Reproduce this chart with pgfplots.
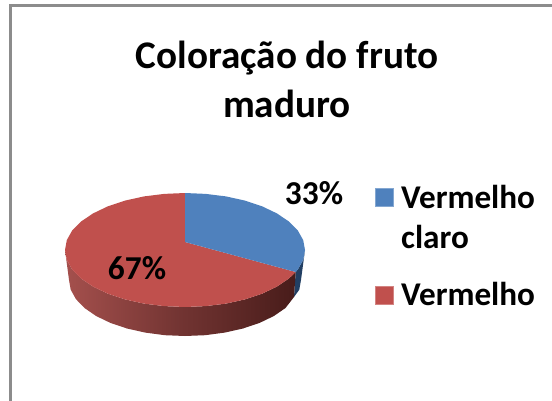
\documentclass[border=0pt]{standalone}
\usepackage{pgfplots}
\pgfplotsset{compat=1.18}
\usepackage{fontspec}
\setmainfont{Carlito}
\definecolor{pieblue}{HTML}{4F81BD}
\definecolor{piered}{HTML}{C0504D}
\definecolor{sideblue}{HTML}{223F63}
\definecolor{frameg}{HTML}{8C8C8C}
\definecolor{sideL}{HTML}{A5504D}
\definecolor{sideM}{HTML}{723432}
\definecolor{sideR}{HTML}{481C1A}
\begin{document}
\begin{tikzpicture}
\begin{axis}[at={(0,0)},anchor=south west,scale only axis,width=552bp,height=401bp,
  xmin=0,xmax=552,ymin=0,ymax=401,y dir=reverse,hide axis,clip=false]
\path[use as bounding box] (axis cs:0,0) rectangle (axis cs:552,401);
% frame
\addplot[frameg,line width=3bp,line join=miter] coordinates {(10.5,401) (10.5,6) (552,6)};
% side faces
\addplot[draw=none,fill=sideblue] coordinates {(305,250) (303.2,259.9) (297.8,269.5) (295.7,272) (294,297) (299.3,289.7) (301,280)} -- cycle;
\addplot[draw=none,left color=sideL,right color=sideR,middle color=sideM] coordinates {
(65,250) (66.8,259.9) (72.2,269.5) (81.1,278.5) (93.1,286.6) (107.9,293.7) (125,299.4) (144,303.6) (164.2,306.1) (185,307)
(205.8,306.1) (226,303.6) (245,299.4) (262.1,293.7) (276.9,286.6) (288.9,278.5) (295.7,272) (294,297) (285.5,308) (273.9,316)
(259.6,322.9) (243,328.5) (224.7,332.6) (205.2,335.2) (185,336) (164.8,335.2) (145.3,332.6) (127,328.5) (110.4,322.9) (96.1,316)
(84.5,308) (76,299.2) (70.7,289.7) (69,280)} -- cycle;
% top faces
\addplot[draw=none,fill=piered] coordinates {(185,242) (295.7,272) (288.9,278.5) (276.9,286.6) (262.1,293.7) (245,299.4) (226,303.6) (205.8,306.1) (185,307)
(164.2,306.1) (144,303.6) (125,299.4) (107.9,293.7) (93.1,286.6) (81.1,278.5) (72.2,269.5) (66.8,259.9) (65,250)
(66.8,240.1) (72.2,230.5) (81.1,221.5) (93.1,213.4) (107.9,206.3) (125,200.6) (144,196.4) (164.2,193.9) (185,193)} -- cycle;
\addplot[draw=none,fill=pieblue] coordinates {(185,242) (185,193) (205.8,193.9) (226,196.4) (245,200.6) (262.1,206.3) (276.9,213.4) (288.9,221.5) (297.8,230.5) (303.2,240.1) (305,250) (303.2,259.9) (297.8,269.5) (295.7,272)} -- cycle;
% legend keys
\addplot[draw=pieblue!70!white,line width=0.5bp,fill=pieblue] coordinates {(375,188) (393,188) (393,206) (375,206)} -- cycle;
\addplot[draw=piered!70!white,line width=0.5bp,fill=piered] coordinates {(375,286) (393,286) (393,304) (375,304)} -- cycle;
% text
\node[font=\fontsize{39.3}{39}\selectfont\bfseries,anchor=base,inner sep=0pt] at (axis cs:287,68) {Coloração do fruto};
\node[font=\fontsize{39.3}{39}\selectfont\bfseries,anchor=base,inner sep=0pt] at (axis cs:287,117) {maduro};
\node[font=\fontsize{33.5}{33}\selectfont\bfseries] at (axis cs:314,193) {33\%};
\node[font=\fontsize{33.5}{33}\selectfont\bfseries] at (axis cs:137,268) {67\%};
\node[font=\fontsize{33.3}{34}\selectfont\bfseries,anchor=base west,inner sep=0pt] at (axis cs:401,208) {Vermelho};
\node[font=\fontsize{33.3}{34}\selectfont\bfseries,anchor=base west,inner sep=0pt] at (axis cs:401,248) {claro};
\node[font=\fontsize{33.3}{34}\selectfont\bfseries,anchor=base west,inner sep=0pt] at (axis cs:401,305) {Vermelho};
\end{axis}
\end{tikzpicture}
\end{document}
